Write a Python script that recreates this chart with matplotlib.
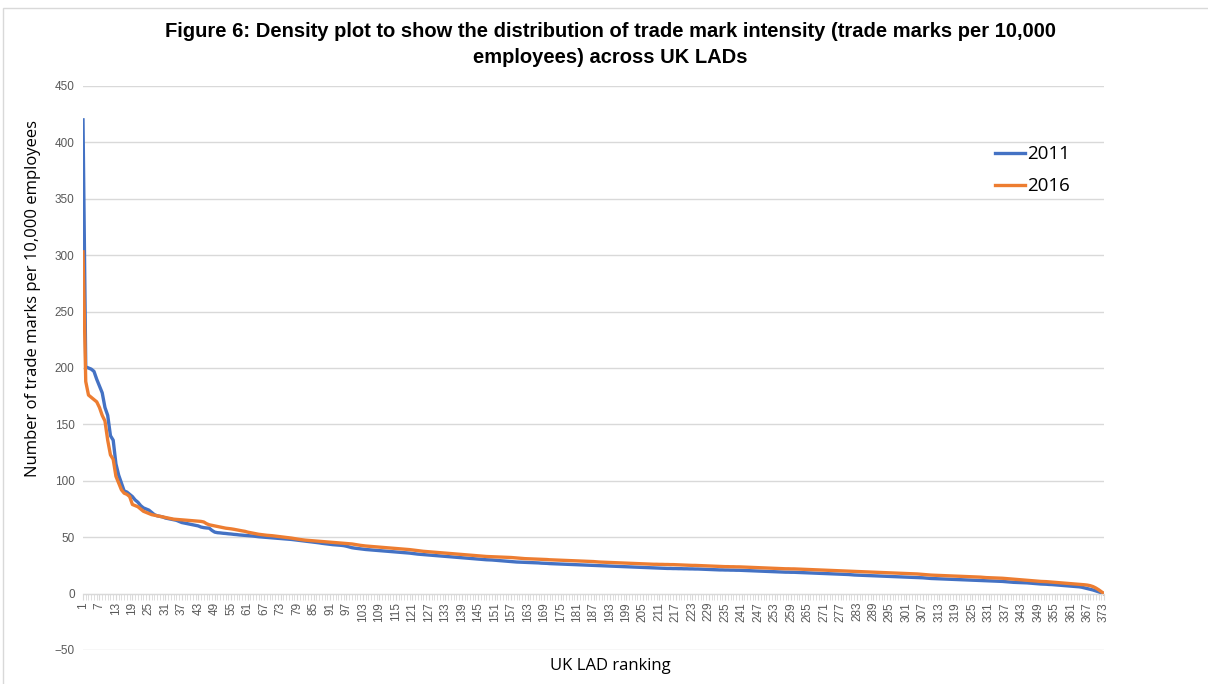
import matplotlib.pyplot as plt
from matplotlib.patches import Rectangle
from matplotlib.ticker import MultipleLocator, FixedLocator
import numpy as np

# trade marks per 10,000 employees, LADs ranked 1..373
tm_2011 = [
    420, 201, 200, 199, 197, 190, 184, 178, 165, 158,
    140, 136, 115, 105, 98, 91, 90, 88, 86, 83,
    81, 78, 76, 75, 74, 72, 70, 69, 68.5, 68,
    67, 66.5, 66, 65.5, 65, 64, 63, 62.5, 62, 61.5,
    61, 60.5, 60, 59, 58.5, 58.2, 58, 56, 54.5, 54,
    53.8, 53.5, 53.3, 53, 52.8, 52.5, 52.3, 52, 51.8, 51.6,
    51.4, 51.2, 51, 50.7, 50.4, 50.2, 50, 49.8, 49.6, 49.4,
    49.2, 49, 48.8, 48.6, 48.4, 48.2, 48, 47.7, 47.4, 47.1,
    46.8, 46.5, 46.2, 45.9, 45.6, 45.3, 45, 44.6, 44.3, 44,
    43.7, 43.4, 43.2, 43, 42.8, 42.5, 42, 41.3, 40.7, 40.3,
    40, 39.7, 39.4, 39.1, 38.9, 38.7, 38.5, 38.3, 38.1, 37.9,
    37.7, 37.5, 37.3, 37.1, 36.9, 36.7, 36.5, 36.3, 36.1, 35.9,
    35.6, 35.3, 35, 34.8, 34.6, 34.4, 34.2, 34, 33.8, 33.6,
    33.4, 33.2, 33, 32.8, 32.6, 32.4, 32.2, 32, 31.8, 31.6,
    31.4, 31.2, 31, 30.8, 30.6, 30.4, 30.2, 30, 29.9, 29.8,
    29.6, 29.4, 29.2, 29, 28.8, 28.6, 28.4, 28.2, 28, 27.9,
    27.8, 27.7, 27.6, 27.5, 27.4, 27.3, 27.2, 27, 26.9, 26.8,
    26.6, 26.5, 26.4, 26.3, 26.2, 26.1, 26, 25.9, 25.8, 25.7,
    25.6, 25.5, 25.4, 25.3, 25.2, 25.1, 25, 24.9, 24.8, 24.7,
    24.6, 24.5, 24.4, 24.3, 24.2, 24.1, 24, 23.9, 23.8, 23.7,
    23.6, 23.5, 23.4, 23.3, 23.2, 23.1, 23, 22.9, 22.8, 22.7,
    22.6, 22.5, 22.4, 22.3, 22.3, 22.2, 22.2, 22.1, 22.1, 22,
    22, 21.9, 21.9, 21.8, 21.8, 21.7, 21.6, 21.5, 21.4, 21.3,
    21.2, 21.1, 21, 21, 20.9, 20.9, 20.8, 20.8, 20.7, 20.7,
    20.6, 20.5, 20.4, 20.3, 20.2, 20.1, 20, 19.9, 19.8, 19.7,
    19.6, 19.5, 19.4, 19.3, 19.2, 19.1, 19, 19, 18.9, 18.9,
    18.8, 18.7, 18.6, 18.5, 18.4, 18.3, 18.2, 18.1, 18, 17.9,
    17.8, 17.7, 17.6, 17.5, 17.4, 17.3, 17.2, 17.1, 17, 16.9,
    16.7, 16.5, 16.4, 16.3, 16.2, 16.1, 16, 15.9, 15.8, 15.7,
    15.6, 15.5, 15.4, 15.3, 15.2, 15.1, 15, 14.9, 14.8, 14.7,
    14.6, 14.5, 14.4, 14.3, 14.2, 14.1, 14, 13.8, 13.6, 13.4,
    13.3, 13.2, 13.1, 13, 12.9, 12.8, 12.7, 12.6, 12.5, 12.4,
    12.3, 12.2, 12.1, 12, 11.9, 11.8, 11.7, 11.6, 11.5, 11.4,
    11.3, 11.2, 11.1, 11, 10.9, 10.8, 10.6, 10.4, 10.2, 10,
    9.9, 9.8, 9.7, 9.6, 9.5, 9.3, 9.1, 8.9, 8.7, 8.5,
    8.4, 8.3, 8.1, 8, 7.8, 7.6, 7.4, 7.2, 7, 6.8,
    6.6, 6.4, 6.2, 6, 5.6, 5, 4.4, 3.8, 3.2, 2.4,
    1.6, 0.8, 0,
]

tm_2016 = [
    303, 188, 176, 174, 172, 170, 165, 158, 153, 136,
    123, 119, 104, 98, 92, 89, 88, 86, 79, 78,
    77, 75, 73, 72, 71, 70, 69.5, 69, 68.5, 68,
    67.5, 67, 66.5, 66, 65.8, 65.6, 65.4, 65.2, 65, 64.8,
    64.6, 64.4, 64.2, 64, 63.5, 62, 61, 60.5, 60, 59.5,
    59, 58.5, 58, 57.7, 57.4, 57, 56.5, 56, 55.6, 55.2,
    54.5, 54, 53.5, 53, 52.6, 52.3, 52, 51.7, 51.5, 51.3,
    51, 50.7, 50.4, 50.1, 49.8, 49.5, 49.2, 48.8, 48.4, 48,
    47.7, 47.4, 47.2, 47, 46.8, 46.6, 46.4, 46.2, 46, 45.8,
    45.6, 45.4, 45.2, 45, 44.8, 44.6, 44.4, 44.2, 44, 43.6,
    43.2, 42.8, 42.5, 42.2, 42, 41.8, 41.6, 41.4, 41.2, 41,
    40.8, 40.6, 40.4, 40.2, 40, 39.8, 39.6, 39.4, 39.2, 39,
    38.7, 38.4, 38.1, 37.8, 37.5, 37.3, 37.1, 36.9, 36.7, 36.5,
    36.3, 36.1, 35.9, 35.7, 35.5, 35.3, 35.1, 34.9, 34.7, 34.5,
    34.3, 34.1, 33.9, 33.7, 33.5, 33.3, 33.1, 32.9, 32.8, 32.7,
    32.6, 32.5, 32.4, 32.3, 32.2, 32.1, 32, 31.8, 31.6, 31.4,
    31.2, 31, 30.9, 30.8, 30.7, 30.6, 30.5, 30.4, 30.3, 30.2,
    30, 29.9, 29.8, 29.7, 29.6, 29.5, 29.4, 29.3, 29.2, 29.1,
    29, 28.9, 28.8, 28.7, 28.6, 28.5, 28.4, 28.2, 28, 27.9,
    27.8, 27.7, 27.6, 27.5, 27.4, 27.3, 27.2, 27.1, 27, 26.9,
    26.8, 26.7, 26.6, 26.5, 26.4, 26.3, 26.2, 26.1, 26, 26,
    25.9, 25.9, 25.8, 25.8, 25.7, 25.7, 25.6, 25.5, 25.4, 25.3,
    25.2, 25.1, 25, 25, 24.9, 24.8, 24.7, 24.6, 24.5, 24.4,
    24.3, 24.2, 24.1, 24, 23.9, 23.9, 23.8, 23.8, 23.7, 23.7,
    23.6, 23.5, 23.4, 23.3, 23.2, 23.1, 23, 22.9, 22.8, 22.7,
    22.6, 22.5, 22.4, 22.3, 22.2, 22.1, 22, 22, 21.9, 21.9,
    21.8, 21.7, 21.6, 21.5, 21.4, 21.3, 21.2, 21.1, 21, 20.9,
    20.8, 20.7, 20.6, 20.5, 20.4, 20.3, 20.2, 20.1, 20, 19.9,
    19.8, 19.7, 19.6, 19.5, 19.4, 19.3, 19.2, 19.1, 19, 18.9,
    18.8, 18.7, 18.6, 18.5, 18.4, 18.3, 18.2, 18.1, 18, 17.9,
    17.8, 17.7, 17.6, 17.5, 17.4, 17.2, 17, 16.8, 16.6, 16.4,
    16.3, 16.2, 16.1, 16, 15.9, 15.8, 15.7, 15.6, 15.5, 15.4,
    15.3, 15.2, 15.1, 15, 14.9, 14.8, 14.7, 14.6, 14.4, 14.2,
    14.1, 14, 13.9, 13.8, 13.7, 13.6, 13.4, 13.2, 13, 12.8,
    12.6, 12.4, 12.2, 12, 11.8, 11.6, 11.4, 11.2, 11, 10.8,
    10.7, 10.6, 10.4, 10.2, 10, 9.8, 9.6, 9.4, 9.2, 9,
    8.8, 8.6, 8.4, 8.2, 8, 7.8, 7.5, 7, 6.2, 5,
    3.5, 1.8, 0,
]

rank = np.arange(1, len(tm_2011) + 1)
tick_labels = rank[::6]

plt.rcParams['font.family'] = ['Liberation Sans', 'DejaVu Sans']

fig = plt.figure(figsize=(12.08, 6.84), dpi=100)
ax = fig.add_axes([83 / 1208, 1 - 650 / 684, (1104 - 83) / 1208, (650 - 86) / 684])

ax.plot(rank, tm_2011, color='#4472C4', lw=2.4, label='2011', solid_joinstyle='round')
ax.plot(rank, tm_2016, color='#ED7D31', lw=2.4, label='2016', solid_joinstyle='round')

ax.set_xlim(1, 373)
ax.set_ylim(-50, 450)
ax.yaxis.set_major_locator(MultipleLocator(50))
ax.grid(axis='y', color='#d9d9d9', lw=1)
ax.set_axisbelow(True)

for s in ['top', 'right', 'left']:
    ax.spines[s].set_visible(False)
ax.spines['bottom'].set_position(('data', 0))
ax.spines['bottom'].set_color('#d9d9d9')

ax.xaxis.set_major_locator(FixedLocator(tick_labels))
ax.xaxis.set_minor_locator(FixedLocator(rank))
ax.set_xticklabels([str(v) for v in tick_labels], rotation=90, fontsize=8.5, color='#595959')
ax.tick_params(axis='x', which='both', length=4, color='#d9d9d9', pad=2)
ax.tick_params(axis='y', length=0, labelsize=8.5, labelcolor='#595959', pad=6)

ax.legend(loc='upper left', bbox_to_anchor=(0.877, 0.925), frameon=False,
          handlelength=1.6, handletextpad=0.1, labelspacing=0.75,
          prop={'family': 'Open Sans', 'size': 13.5})

fig.text(0.505, 0.968, 'Figure 6: Density plot to show the distribution of trade mark intensity (trade marks per 10,000\nemployees) across UK LADs',
         ha='center', va='top', fontsize=14.5, fontweight='bold', linespacing=1.45)
fig.text(0.027, 0.564, 'Number of trade marks per 10,000 employees', rotation=90,
         ha='center', va='center', fontsize=12, family='Open Sans')
fig.text(0.505, 0.027, 'UK LAD ranking', ha='center', va='center', fontsize=12, family='Open Sans')

fig.patches.append(Rectangle((3 / 1208, -0.02), 1.0, 1 - 8 / 684 + 0.02, transform=fig.transFigure,
                             fill=False, edgecolor='#d9d9d9', lw=1))

fig.savefig('out.png', dpi=100)
